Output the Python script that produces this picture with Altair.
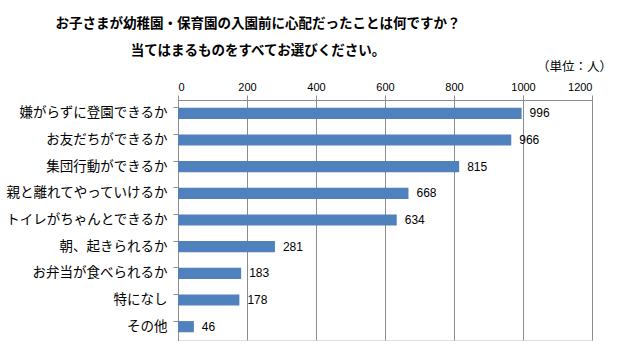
import altair as alt
import pandas as pd

categories = ["嫌がらずに登園できるか", "お友だちができるか", "集団行動ができるか",
              "親と離れてやっていけるか", "トイレがちゃんとできるか", "朝、起きられるか",
              "お弁当が食べられるか", "特になし", "その他"]
values = [996, 966, 815, 668, 634, 281, 183, 178, 46]
x_ticks = [0, 200, 400, 600, 800, 1000, 1200]
title_lines = ["お子さまが幼稚園・保育園の入園前に心配だったことは何ですか？",
               "当てはまるものをすべてお選びください。"]
unit_label = "（単位：人）"

df = pd.DataFrame({"category": categories, "value": values})
JP = "Noto Sans CJK JP"
NUM = "Liberation Sans"

W, H = 414, 240

base = alt.Chart(df)

bars = base.mark_bar(color="#4F81BD").encode(
    x=alt.X("value:Q", scale=alt.Scale(domain=[0, 1200], nice=False),
            axis=alt.Axis(orient="top", values=x_ticks, title=None, format="d",
                          grid=True, gridColor="#8c8c8c", gridWidth=1,
                          domainColor="#8c8c8c", tickColor="#8c8c8c", tickSize=5,
                          labelFont=NUM, labelFontSize=11, labelColor="#000000",
                          labelPadding=3)),
    y=alt.Y("category:N", sort=categories,
            scale=alt.Scale(paddingInner=0.58, paddingOuter=0.29),
            axis=alt.Axis(title=None, labelFont=JP, labelFontSize=13.5,
                          labelColor="#000000", domainColor="#8c8c8c",
                          tickColor="#8c8c8c", tickSize=5, bandPosition=0,
                          labelPadding=6)),
)

labels = base.mark_text(align="left", baseline="middle", dx=8, font=NUM,
                        fontSize=12, color="#000000").encode(
    x="value:Q",
    y=alt.Y("category:N", sort=categories),
    text=alt.Text("value:Q", format="d"),
)

unit = alt.Chart(pd.DataFrame({"t": [unit_label]})).mark_text(
    align="right", baseline="middle", font=JP, fontSize=12.5, color="#000000"
).encode(x=alt.value(W + 20), y=alt.value(-33), text="t:N")

chart = alt.layer(bars, labels, unit).properties(
    width=W, height=H,
    padding={"left": 178, "top": 100, "right": 26, "bottom": 5},
    autosize=alt.AutoSizeParams(type="none"),
    title=alt.Title(text=title_lines, font=JP, fontSize=13.5, fontWeight="bold",
                    color="#000000", anchor="middle", dx=-127, lineHeight=27,
                    offset=4),
).configure_view(stroke=None).configure(background="#ffffff")

chart.save("out.html", embed_options={"renderer": "svg", "actions": False})
